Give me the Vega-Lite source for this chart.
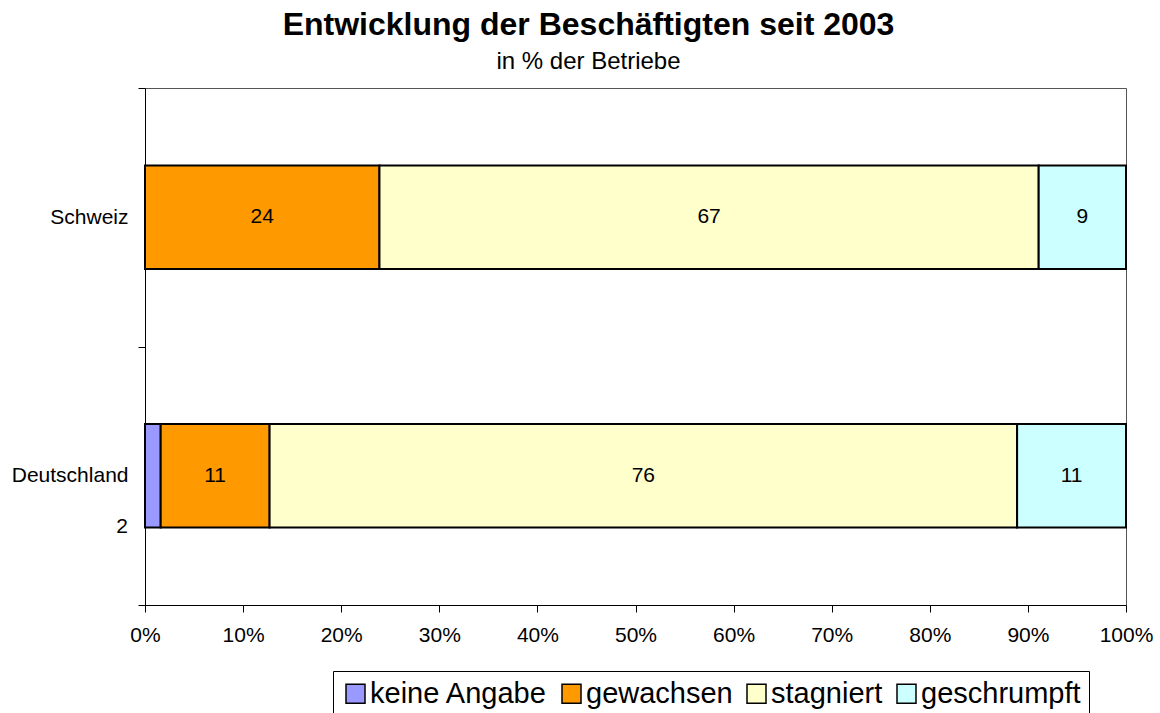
{
  "$schema": "https://vega.github.io/schema/vega-lite/v6.json",
  "width": 981,
  "height": 517,
  "autosize": "none",
  "padding": {"left": 145, "top": 88, "right": 34, "bottom": 108},
  "background": "white",
  "config": {
    "font": "Liberation Sans",
    "view": {"stroke": "#555", "strokeWidth": 1},
    "axis": {"labelFont": "Liberation Sans", "labelColor": "black", "domainColor": "black", "tickColor": "black"}
  },
  "title": {
    "text": "Entwicklung der Beschäftigten seit 2003",
    "subtitle": "in % der Betriebe",
    "font": "Liberation Sans",
    "fontSize": 32,
    "fontWeight": "bold",
    "color": "black",
    "subtitleFont": "Liberation Sans",
    "subtitleFontSize": 24,
    "subtitleColor": "black",
    "subtitlePadding": 8,
    "anchor": "middle",
    "dx": -47,
    "offset": 2
  },
  "data": {
    "values": [
      {"Land": "Schweiz", "Kategorie": "keine Angabe", "idx": 1, "Wert": 0},
      {"Land": "Schweiz", "Kategorie": "gewachsen", "idx": 2, "Wert": 23.9},
      {"Land": "Schweiz", "Kategorie": "stagniert", "idx": 3, "Wert": 67.2},
      {"Land": "Schweiz", "Kategorie": "geschrumpft", "idx": 4, "Wert": 8.9},
      {"Land": "Deutschland", "Kategorie": "keine Angabe", "idx": 1, "Wert": 1.6},
      {"Land": "Deutschland", "Kategorie": "gewachsen", "idx": 2, "Wert": 11.1},
      {"Land": "Deutschland", "Kategorie": "stagniert", "idx": 3, "Wert": 76.2},
      {"Land": "Deutschland", "Kategorie": "geschrumpft", "idx": 4, "Wert": 11.1}
    ]
  },
  "transform": [
    {"stack": "Wert", "groupby": ["Land"], "sort": [{"field": "idx", "order": "ascending"}], "offset": "normalize", "as": ["v0", "v1"]},
    {"calculate": "(datum.v0 + datum.v1) / 2", "as": "mid"}
  ],
  "encoding": {
    "y": {
      "field": "Land",
      "type": "nominal",
      "sort": ["Schweiz", "Deutschland"],
      "scale": {"paddingInner": 0, "paddingOuter": 0},
      "axis": {
        "title": null,
        "labelFontSize": 21,
        "labelPadding": 10,
        "tickSize": 7,
        "tickBand": "extent",
        "domainColor": "black"
      }
    }
  },
  "layer": [
    {
      "mark": {"type": "bar", "stroke": "black", "strokeWidth": 2, "height": {"band": 0.4}},
      "encoding": {
        "x": {
          "field": "v0",
          "type": "quantitative",
          "scale": {"domain": [0, 1], "nice": false},
          "axis": {
            "title": null,
            "format": ".0%",
            "values": [0, 0.1, 0.2, 0.3, 0.4, 0.5, 0.6, 0.7, 0.8, 0.9, 1],
            "grid": false,
            "labelFontSize": 21,
            "tickSize": 7,
            "labelPadding": 12,
            "labelFlush": false
          }
        },
        "x2": {"field": "v1"},
        "color": {
          "field": "Kategorie",
          "type": "nominal",
          "sort": ["keine Angabe", "gewachsen", "stagniert", "geschrumpft"],
          "scale": {
            "domain": ["keine Angabe", "gewachsen", "stagniert", "geschrumpft"],
            "range": ["#9999FF", "#FF9900", "#FFFFCC", "#CCFFFF"]
          },
          "legend": {
            "title": null,
            "orient": "none",
            "legendX": 188,
            "legendY": 583,
            "direction": "horizontal",
            "symbolType": "square",
            "symbolSize": 361,
            "symbolStrokeColor": "black",
            "symbolStrokeWidth": 1.5,
            "symbolOpacity": 1,
            "labelFont": "Liberation Sans",
            "labelFontSize": 29,
            "labelColor": "black",
            "labelLimit": 400,
            "labelOffset": 0,
            "columnPadding": 9,
            "padding": 8,
            "strokeColor": "black",
            "fillColor": "white"
          }
        }
      }
    },
    {
      "transform": [{"filter": "datum.idx > 1"}],
      "mark": {"type": "text", "fontSize": 21, "color": "black", "align": "center", "baseline": "middle"},
      "encoding": {
        "x": {"field": "mid", "type": "quantitative"},
        "text": {"field": "Wert", "type": "quantitative", "format": ".0f"}
      }
    },
    {
      "transform": [{"filter": "datum.idx == 1 && datum.Wert > 0"}],
      "mark": {"type": "text", "fontSize": 21, "color": "black", "align": "right", "baseline": "middle", "dx": -17},
      "encoding": {
        "x": {"field": "v0", "type": "quantitative"},
        "y": {"field": "Land", "type": "nominal", "sort": ["Schweiz", "Deutschland"], "bandPosition": 0.7},
        "text": {"field": "Wert", "type": "quantitative", "format": ".0f"}
      }
    }
  ]
}
